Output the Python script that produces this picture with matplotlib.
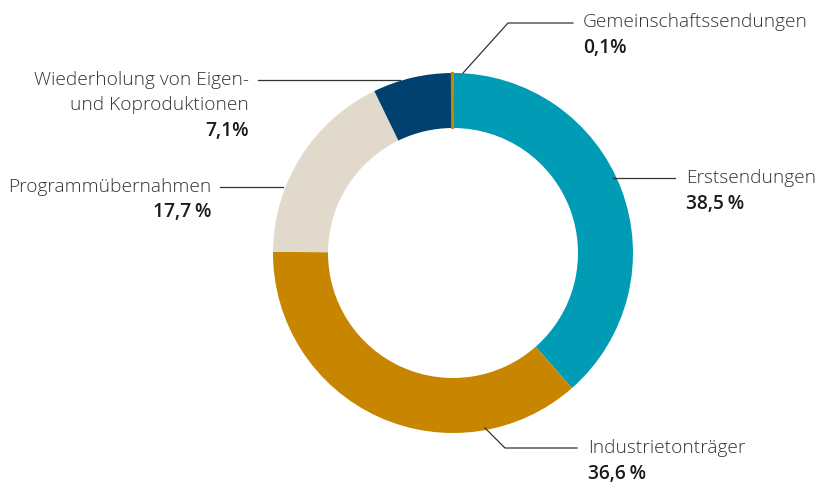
import matplotlib.pyplot as plt

labels = ["Erstsendungen", "Industrietonträger", "Programmübernahmen",
          "Wiederholung von Eigen-\nund Koproduktionen", "Gemeinschaftssendungen"]
values = [38.5, 36.6, 17.7, 7.1, 0.1]
value_texts = ["38,5\u2009%", "36,6\u2009%", "17,7\u2009%", "7,1%", "0,1%"]
colors = ["#009bb4", "#c78500", "#e0d9cc", "#004170", "#c78500"]

H = 488
fig = plt.figure(figsize=(8.22, 4.88), dpi=100)
ax = fig.add_axes([0, 0, 1, 1])

wedges, _ = ax.pie(values, colors=colors, startangle=90, counterclock=False,
                   center=(453, H - 253), radius=180,
                   wedgeprops=dict(width=55, linewidth=0))
ax.set_xlim(0, 822)
ax.set_ylim(0, H)
ax.set_aspect("equal")
ax.axis("off")
# keep the tiny slice visible
wedges[-1].set_edgecolor(colors[-1])
wedges[-1].set_linewidth(1.5)

FONT = ["Open Sans", "DejaVu Sans"]
line_kw = dict(color="#333333", lw=0.9)
step = 25.5

# (leader line points, text x, first text line y, alignment) per slice
layout = [
    ([(613, 178), (675, 178)], 686, 178, "left"),
    ([(485, 428), (505, 448), (577, 448)], 588, 448, "left"),
    ([(283, 187), (220, 187)], 211, 187, "right"),
    ([(400, 80), (258, 80)], 249, 80, "right"),
    ([(463, 73), (508, 23), (573, 23)], 583, 22, "left"),
]

for (pts, tx, ty, ha), lab, vt in zip(layout, labels, value_texts):
    ax.plot([p[0] for p in pts], [H - p[1] for p in pts], **line_kw)
    rows = lab.split("\n")
    for i, row in enumerate(rows):
        ax.text(tx, H - (ty + step * i), row, ha=ha, va="center", fontsize=13.8,
                family=FONT, fontweight="light", color="#333333")
    ax.text(tx, H - (ty + step * len(rows)), vt, ha=ha, va="center",
            fontsize=13.8, family=FONT, fontweight="semibold", color="#1a1a1a")

fig.savefig("out.png", dpi=100)
